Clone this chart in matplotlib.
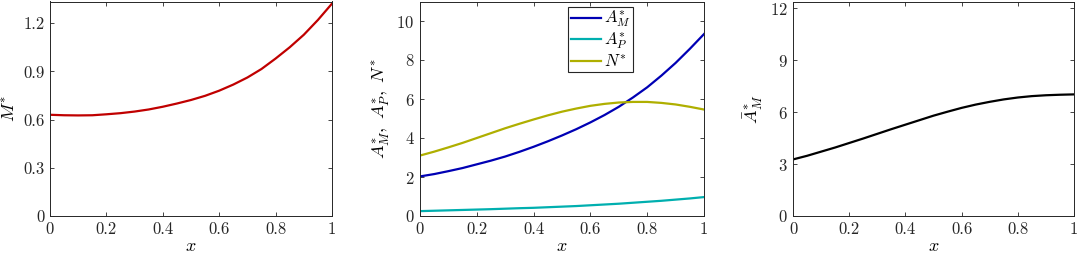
import numpy as np
import matplotlib.pyplot as plt

plt.rcParams['font.family'] = 'serif'
plt.rcParams['font.serif'] = ['cmr10']
plt.rcParams['mathtext.fontset'] = 'cm'
plt.rcParams['axes.formatter.use_mathtext'] = True

# values
x = [0.0, 0.05, 0.1, 0.15, 0.2, 0.25, 0.3, 0.35, 0.4, 0.45, 0.5,
     0.55, 0.6, 0.65, 0.7, 0.75, 0.8, 0.85, 0.9, 0.95, 1.0]
M = [0.630, 0.627, 0.626, 0.627, 0.633, 0.640, 0.650, 0.663, 0.680, 0.700, 0.722,
     0.748, 0.780, 0.818, 0.862, 0.915, 0.980, 1.050, 1.128, 1.220, 1.322]
AM = [2.03, 2.15, 2.30, 2.46, 2.65, 2.84, 3.05, 3.29, 3.55, 3.83, 4.13,
      4.45, 4.80, 5.18, 5.60, 6.08, 6.60, 7.20, 7.85, 8.57, 9.33]
AP = [0.25, 0.27, 0.29, 0.31, 0.33, 0.35, 0.375, 0.40, 0.42, 0.45, 0.48,
      0.51, 0.55, 0.59, 0.63, 0.68, 0.73, 0.78, 0.84, 0.90, 0.97]
N = [3.10, 3.30, 3.52, 3.75, 4.00, 4.25, 4.50, 4.73, 4.95, 5.16, 5.35,
     5.51, 5.65, 5.75, 5.82, 5.85, 5.85, 5.80, 5.72, 5.60, 5.46]
Abar = [3.27, 3.48, 3.72, 3.96, 4.22, 4.48, 4.75, 5.02, 5.28, 5.54, 5.80,
        6.03, 6.25, 6.44, 6.60, 6.74, 6.85, 6.93, 6.98, 7.01, 7.03]

c_M = '#c00000'
c_AM = '#0000b4'
c_AP = '#00afaf'
c_N = '#afaf00'

fig = plt.figure(figsize=(10.78, 2.59), dpi=100)
H = (216 - 1.5) / 259
B = 43 / 259
ax1 = fig.add_axes([50 / 1078, B, 282 / 1078, H])
ax2 = fig.add_axes([420 / 1078, B, 284 / 1078, H])
ax3 = fig.add_axes([793 / 1078, B, 281 / 1078, H])

ax1.plot(x, M, color=c_M, lw=1.6)
ax1.set_ylim(0, 1.335)
ax1.set_yticks([0, 0.3, 0.6, 0.9, 1.2])
ax1.set_yticklabels(['0', '0.3', '0.6', '0.9', '1.2'])
ax1.set_ylabel(r'$M^{*}$', fontsize=13, labelpad=3)

ax2.plot(x, AM, color=c_AM, lw=1.6, label=r'$A_M^{*}$')
ax2.plot(x, AP, color=c_AP, lw=1.6, label=r'$A_P^{*}$')
ax2.plot(x, N, color=c_N, lw=1.6, label=r'$N^{*}$')
ax2.set_ylim(0, 11)
ax2.set_yticks([0, 2, 4, 6, 8, 10])
ax2.set_ylabel(r'$A_M^{*},\ A_P^{*},\ N^{*}$', fontsize=13, labelpad=3)
leg = ax2.legend(loc='upper left', bbox_to_anchor=(0.505, 1.0), fontsize=12,
                 handlelength=1.8, handletextpad=0.2, borderpad=0.15,
                 labelspacing=0.05, fancybox=False, framealpha=1,
                 borderaxespad=0.3)
leg.get_frame().set_edgecolor('#262626')
leg.get_frame().set_linewidth(0.8)

ax3.plot(x, Abar, color='black', lw=1.6)
ax3.set_ylim(0, 12.4)
ax3.set_yticks([0, 3, 6, 9, 12])
ax3.set_ylabel(r'$\bar{A}_M^{*}$', fontsize=13, labelpad=3)

for ax in (ax1, ax2, ax3):
    ax.set_xlim(0, 1)
    ax.set_xticks([0, 0.2, 0.4, 0.6, 0.8, 1])
    ax.set_xticklabels(['0', '0.2', '0.4', '0.6', '0.8', '1'])
    ax.set_xlabel(r'$x$', fontsize=13, labelpad=1)
    ax.tick_params(direction='in', length=3, width=0.6, top=True, right=True,
                   labelsize=12, colors='#262626', pad=4)
    for s in ax.spines.values():
        s.set_color('#262626')
        s.set_linewidth(0.7)

fig.savefig('out.png', dpi=100)
